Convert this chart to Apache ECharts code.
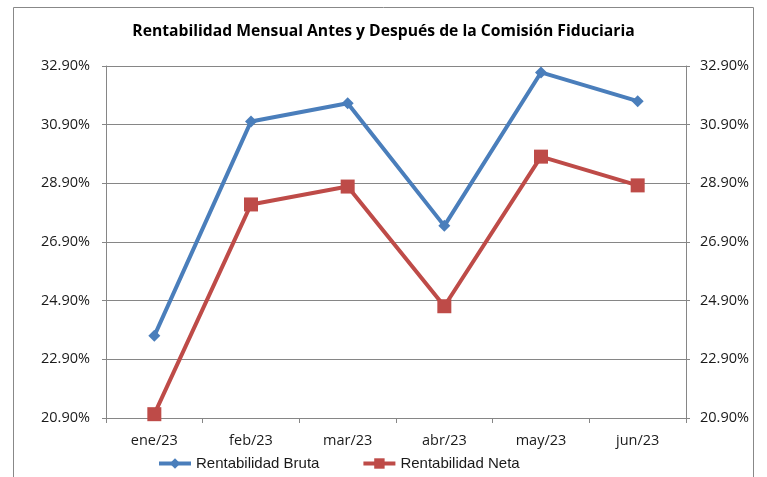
<!DOCTYPE html>
<html>
<head>
<meta charset="utf-8">
<script src="https://cdn.jsdelivr.net/npm/echarts@6/dist/echarts.min.js"></script>
<style>html,body{margin:0;padding:0;background:#fff}#c{width:767px;height:477px}</style>
</head>
<body>
<div id="c"></div>
<script>
var categories = ['ene/23','feb/23','mar/23','abr/23','may/23','jun/23'];
var bruta = [23.70, 31.01, 31.63, 27.45, 32.68, 31.70];
var neta = [21.03, 28.18, 28.79, 24.71, 29.81, 28.83];
var seriesNames = ['Rentabilidad Bruta', 'Rentabilidad Neta'];
var titleText = 'Rentabilidad Mensual Antes y Después de la Comisión Fiduciaria';
var yMin = 20.9, yMax = 32.9, yStep = 2;

var chart = echarts.init(document.getElementById('c'), null, {renderer: 'canvas'});
var fmt = function (v) { return v.toFixed(2) + '%'; };
var axisFont = {fontFamily: 'Open Sans', fontSize: 14.5, color: '#1a1a1a'};
var yAxisBase = {
  type: 'value', min: yMin, max: yMax, interval: yStep,
  axisLine: {show: true, lineStyle: {color: '#868686', width: 1}},
  axisTick: {show: true, length: 4, lineStyle: {color: '#868686'}},
  axisLabel: Object.assign({formatter: fmt}, axisFont)
};
chart.setOption({
  animation: false,
  title: {
    text: titleText, left: 'center', top: 19,
    textStyle: {fontFamily: 'Open Sans', fontWeight: 'bold', fontSize: 15.7, color: '#000'}
  },
  graphic: [{
    type: 'rect', shape: {x: 13.5, y: 7.5, width: 740, height: 490},
    style: {fill: 'none', stroke: '#888', lineWidth: 1}, silent: true, z: -1
  }],
  legend: {
    top: 451, left: 152, itemGap: 42, itemWidth: 32, itemHeight: 13,
    textStyle: {fontFamily: 'Liberation Sans', fontSize: 15, color: '#1a1a1a'},
    lineStyle: {width: 4},
    data: seriesNames
  },
  grid: {left: 106, right: 81, top: 66, bottom: 59},
  xAxis: {
    type: 'category', data: categories, boundaryGap: true,
    axisLine: {lineStyle: {color: '#868686', width: 1}},
    axisTick: {show: true, length: 5, lineStyle: {color: '#868686'}},
    axisLabel: Object.assign({margin: 15}, axisFont)
  },
  yAxis: [
    Object.assign({}, yAxisBase, {position: 'left', axisLabel: Object.assign({formatter: fmt, margin: 16}, axisFont),
      splitLine: {show: true, lineStyle: {color: '#868686', width: 1}}}),
    Object.assign({}, yAxisBase, {position: 'right', axisLabel: Object.assign({formatter: fmt, margin: 14}, axisFont),
      splitLine: {show: false}})
  ],
  series: [
    {
      name: seriesNames[0], type: 'line', data: bruta, yAxisIndex: 0,
      symbol: 'diamond', symbolSize: 12,
      lineStyle: {color: '#4A7EBB', width: 4},
      itemStyle: {color: '#4A7EBB'}
    },
    {
      name: seriesNames[1], type: 'line', data: neta, yAxisIndex: 0,
      symbol: 'rect', symbolSize: 14,
      lineStyle: {color: '#BE4B48', width: 4},
      itemStyle: {color: '#BE4B48'}
    }
  ]
});
</script>
</body>
</html>
